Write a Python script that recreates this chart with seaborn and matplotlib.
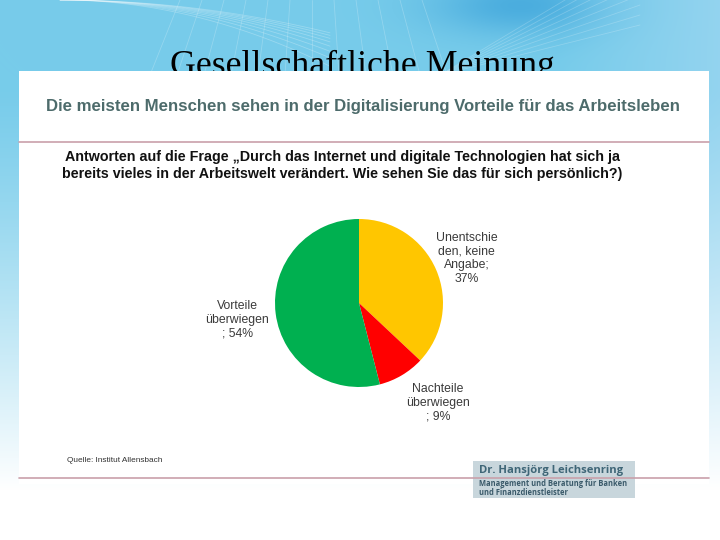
import numpy as np
import matplotlib
matplotlib.use("Agg")
import matplotlib.pyplot as plt
from matplotlib.patches import Rectangle
import seaborn as sns

# ---- data ----
categories = ["Unentschie\nden, keine\nAngabe", "Nachteile\nüberwiegen\n", "Vorteile\nüberwiegen\n"]
shares = [37, 9, 54]
slice_colors = ["#FFC600", "#FF0000", "#00B050"]

slide_title = "Gesellschaftliche Meinung"
panel_title = "Die meisten Menschen sehen in der Digitalisierung Vorteile für das Arbeitsleben"
question_lines = ["Antworten auf die Frage \u201eDurch das Internet und digitale Technologien hat sich ja",
                  "bereits vieles in der Arbeitswelt verändert. Wie sehen Sie das für sich persönlich?)"]
source = "Quelle: Institut Allensbach"
logo_name = "Dr. Hansjörg Leichsenring"
logo_sub = ["Management und Beratung für Banken", "und Finanzdienstleister"]

sns.set_style("white")
plt.rcParams['font.family'] = ['Liberation Sans', 'DejaVu Sans']

W, H = 720, 540
fig = plt.figure(figsize=(7.2, 5.4), dpi=100)

# ---- background axes in pixel coordinates ----
bg = fig.add_axes([0, 0, 1, 1])
bg.set_xlim(0, W)
bg.set_ylim(H, 0)
bg.axis("off")

yy, xx = np.mgrid[0:H, 0:W].astype(float)
top = np.array([0.47, 0.80, 0.92])
dark = np.array([0.25, 0.65, 0.86])
light = np.array([0.65, 0.85, 0.95])
img = np.ones((H, W, 3)) * top
d = np.exp(-(((xx - 520) / 90.0) ** 2 + ((yy - 5) / 30.0) ** 2))
img = img * (1 - d[..., None] * 0.8) + dark * (d[..., None] * 0.8)
r = np.clip((xx - 560) / 160.0, 0, 1)
img = img * (1 - r[..., None] * 0.6) + light * (r[..., None] * 0.6)
t = np.clip((yy - 90) / 400.0, 0, 1) ** 1.2
img = img * (1 - t[..., None]) + np.ones(3) * t[..., None]
bg.imshow(img, extent=(0, W, H, 0), aspect="auto", zorder=0)

# faint white decorative curves
for k in range(12):
    x0 = 180 + 22 * k
    bg.plot(x0 + np.linspace(0, -30 + 5 * k, 40), np.linspace(0, 75, 40),
            color="white", alpha=0.22, lw=0.6, zorder=1)
for k in range(8):
    xs = np.linspace(60, 330, 80)
    bg.plot(xs, (xs - 60) ** 2 / (1100 + 160 * k), color="white", alpha=0.25, lw=0.6, zorder=1)
for k in range(8):
    xs = np.linspace(440, 640, 60)
    bg.plot(xs, 75 - (xs - 440) * (0.25 + 0.05 * k), color="white", alpha=0.2, lw=0.6, zorder=1)

# slide title (partly hidden by panel)
st = bg.text(362, 75, slide_title, ha="center", va="baseline", fontsize=25,
             family=["Liberation Serif", "DejaVu Serif"], color="black", zorder=2)

# white panel
bg.add_patch(Rectangle((19, 71), 690, 413, facecolor="white", edgecolor="none", zorder=3))

pt = bg.text(362.5, 106, panel_title, ha="center", va="center", fontsize=12.5,
             fontweight="bold", color="#4d6b6b", zorder=4)
bg.plot([19, 709], [142, 142], color="#c9a0aa", lw=1.2, zorder=4)

q1 = bg.text(65, 157, question_lines[0], ha="left", va="center", fontsize=11,
             fontweight="bold", color="#111111", zorder=4)
q2 = bg.text(62, 174, question_lines[1], ha="left", va="center", fontsize=11,
             fontweight="bold", color="#111111", zorder=4)

src = bg.text(67, 460, source, ha="left", va="center", fontsize=6, color="#333333", zorder=4)

# logo box
bg.add_patch(Rectangle((473, 461), 162, 37, facecolor="#c8d6dc", edgecolor="none", zorder=4))
ln = bg.text(479, 471, logo_name, ha="left", va="center", fontsize=9, fontweight="bold",
             family=["Open Sans", "DejaVu Sans"], color="#3f6677", zorder=6)
ls1 = bg.text(479, 484, logo_sub[0], ha="left", va="center", fontsize=5.5, fontweight="bold",
              family=["Open Sans", "DejaVu Sans"], color="#3a5a6a", zorder=6)
ls2 = bg.text(479, 492.5, logo_sub[1], ha="left", va="center", fontsize=5.5, fontweight="bold",
              family=["Open Sans", "DejaVu Sans"], color="#3a5a6a", zorder=6)
bg.plot([19, 709], [478, 478], color="#c9a0aa", lw=1.2, zorder=5)

# fit text widths
fig.canvas.draw()
rend = fig.canvas.get_renderer()
def fit(txt, width):
    bb = txt.get_window_extent(rend)
    txt.set_fontsize(txt.get_fontsize() * width / bb.width)
fit(st, 385)
fit(pt, 639)
fit(q2, 562)
q1.set_fontsize(q2.get_fontsize())
fit(src, 96)
fit(ln, 144)
fit(ls1, 148)
ls2.set_fontsize(ls1.get_fontsize())

# ---- pie ----
cx, cy, rad = 359, 303, 84
pax = fig.add_axes([(cx - rad) / W, (H - cy - rad) / H, 2 * rad / W, 2 * rad / H])
wedges, _ = pax.pie(shares, colors=slice_colors, startangle=90, counterclock=False,
                    wedgeprops=dict(linewidth=0))
pax.set_xlim(-1, 1)
pax.set_ylim(-1, 1)
pax.set_aspect("equal")
pax.axis("off")

label_pos = [(1.28, 0.53), (0.94, -1.19), (-1.45, -0.2)]
for cat, val, (lx, ly) in zip(categories, shares, label_pos):
    sep = ";\n" if not cat.endswith("\n") else "; "
    txt = f"{cat}{sep}{val}%"
    pax.text(lx, ly, txt, ha="center", va="center", fontsize=8.8, color="#3a3a3a",
             linespacing=1.2, clip_on=False)

fig.savefig("out.png", dpi=100)
